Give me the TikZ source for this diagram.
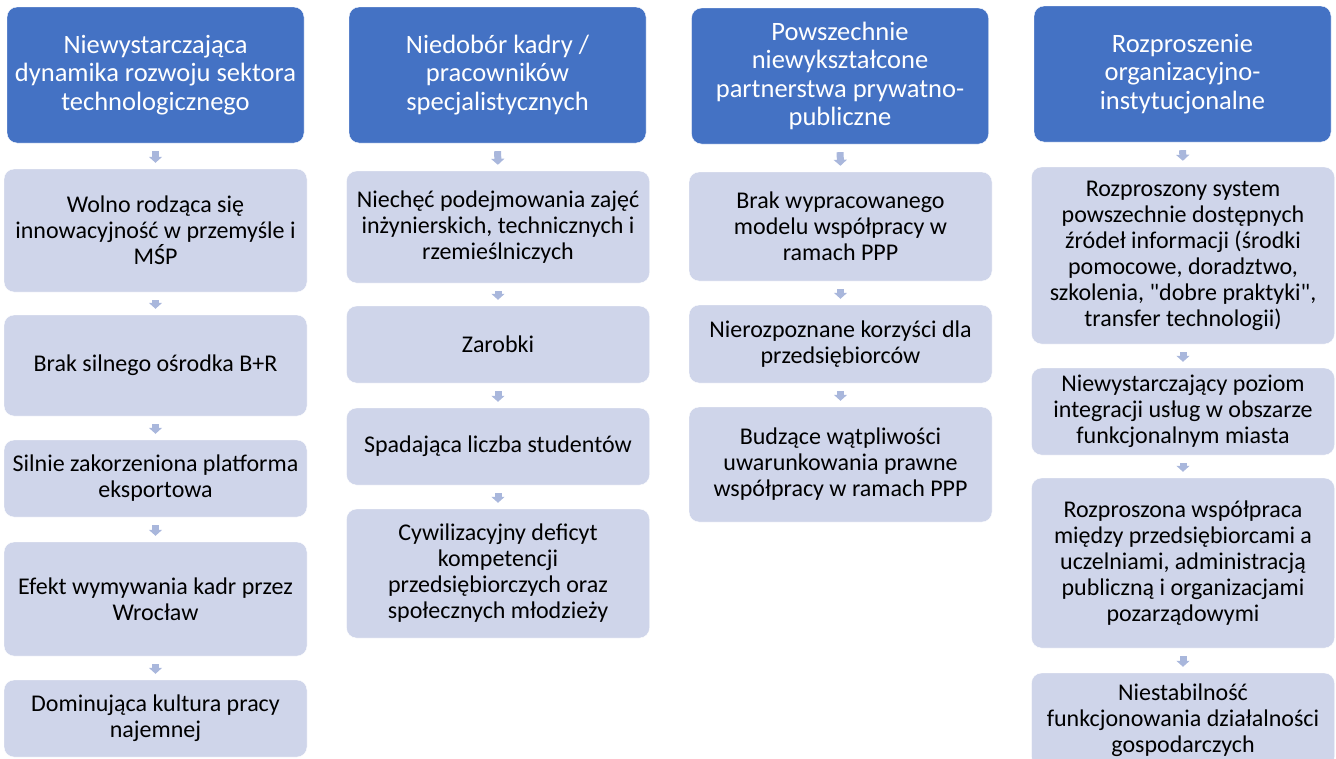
\documentclass[tikz,border=0pt]{standalone}
\usepackage{fontspec}
\setmainfont{Carlito}[Ligatures=TeXOff]
\usetikzlibrary{arrows.meta}

\definecolor{headblue}{HTML}{4472C4}
\definecolor{itemgray}{HTML}{CFD5EA}
\definecolor{arrowblue}{HTML}{A9B7DC}

\tikzset{
  headbox/.style={shape=rectangle,rounded corners=10pt,fill=headblue,draw=white,
    text=white,align=center,inner sep=0pt,minimum width=297pt,minimum height=136pt,
    font=\fontsize{26.5}{28.5}\selectfont},
  itembox/.style={shape=rectangle,rounded corners=10pt,fill=itemgray,draw=white,
    text=black,align=center,inner sep=0pt,minimum width=303pt,
    font=\fontsize{24}{26}\selectfont},
  flowarrow/.style={draw=arrowblue,line width=7pt,-{Triangle[width=13pt,length=6pt]},
    shorten <=8pt,shorten >=6pt}
}

\begin{document}
\begin{tikzpicture}[x=1pt,y=-1pt]
        \useasboundingbox (0,0) rectangle (1336,758);
        \begin{scope}
        \clip (0,0) rectangle (1336,758);
        % naglowki
        \node[headbox] (h1) at (155.5,75) {Niewystarczająca\\dynamika rozwoju sektora\\technologicznego};
        \node[headbox] (h2) at (497.5,75) {Niedobór kadry /\\pracowników\\specjalistycznych};
        \node[headbox] (h3) at (840,76) {Powszechnie\\niewykształcone\\partnerstwa prywatno-\\publiczne};
        \node[headbox] (h4) at (1182.5,74) {Rozproszenie\\organizacyjno-\\instytucjonalne};
        % kolumna 1
        \node[itembox,minimum height=123pt] (a1) at (155.5,230.5) {Wolno rodząca się\\innowacyjność w przemyśle i\\MŚP};
        \node[itembox,minimum height=101pt] (a2) at (155.5,365.5) {Brak silnego ośrodka B+R};
        \node[itembox,minimum height=77pt] (a3) at (155.5,478.5) {Silnie zakorzeniona platforma\\eksportowa};
        \node[itembox,minimum height=114pt] (a4) at (155.5,599) {Efekt wymywania kadr przez\\Wrocław};
        \node[itembox,minimum height=77pt] (a5) at (155.5,718.5) {Dominująca kultura pracy\\najemnej};
        % kolumna 2
        \node[itembox,minimum height=112pt] (b1) at (498,227) {Niechęć podejmowania zajęć\\inżynierskich, technicznych i\\rzemieślniczych};
        \node[itembox,minimum height=77pt] (b2) at (498,344.5) {Zarobki};
        \node[itembox,minimum height=77pt] (b3) at (498,446.5) {Spadająca liczba studentów};
        \node[itembox,minimum height=129pt] (b4) at (498,573.5) {Cywilizacyjny deficyt\\kompetencji\\przedsiębiorczych oraz\\społecznych młodzieży};
        % kolumna 3
        \node[itembox,minimum height=109pt] (c1) at (840.5,226.5) {Brak wypracowanego\\modelu współpracy w\\ramach PPP};
        \node[itembox,minimum height=78pt] (c2) at (840.5,344) {Nierozpoznane korzyści dla\\przedsiębiorców};
        \node[itembox,minimum height=115pt] (c3) at (840.5,464.5) {Budzące wątpliwości\\uwarunkowania prawne\\współpracy w ramach PPP};
        % kolumna 4
        \node[itembox,minimum height=177pt] (d1) at (1183,255.5) {Rozproszony system\\powszechnie dostępnych\\źródeł informacji (środki\\pomocowe, doradztwo,\\szkolenia, "dobre praktyki",\\transfer technologii)};
        \node[itembox,minimum height=87pt] (d2) at (1183,411.5) {Niewystarczający poziom\\integracji usług w obszarze\\funkcjonalnym miasta};
        \node[itembox,minimum height=170pt] (d3) at (1183,563) {Rozproszona współpraca\\między przedsiębiorcami a\\uczelniami, administracją\\publiczną i organizacjami\\pozarządowymi};
        \node[itembox,minimum height=94pt] (d4) at (1183,720) {Niestabilność\\funkcjonowania działalności\\gospodarczych};
        % strzalki
        \path (h1.south) edge[flowarrow] (a1.north);
        \path (a1.south) edge[flowarrow] (a2.north);
        \path (a2.south) edge[flowarrow] (a3.north);
        \path (a3.south) edge[flowarrow] (a4.north);
        \path (a4.south) edge[flowarrow] (a5.north);
        \path (h2.south) edge[flowarrow] (b1.north);
        \path (b1.south) edge[flowarrow] (b2.north);
        \path (b2.south) edge[flowarrow] (b3.north);
        \path (b3.south) edge[flowarrow] (b4.north);
        \path (h3.south) edge[flowarrow] (c1.north);
        \path (c1.south) edge[flowarrow] (c2.north);
        \path (c2.south) edge[flowarrow] (c3.north);
        \path (h4.south) edge[flowarrow] (d1.north);
        \path (d1.south) edge[flowarrow] (d2.north);
        \path (d2.south) edge[flowarrow] (d3.north);
        \path (d3.south) edge[flowarrow] (d4.north);
        \end{scope}
\end{tikzpicture}
\end{document}
